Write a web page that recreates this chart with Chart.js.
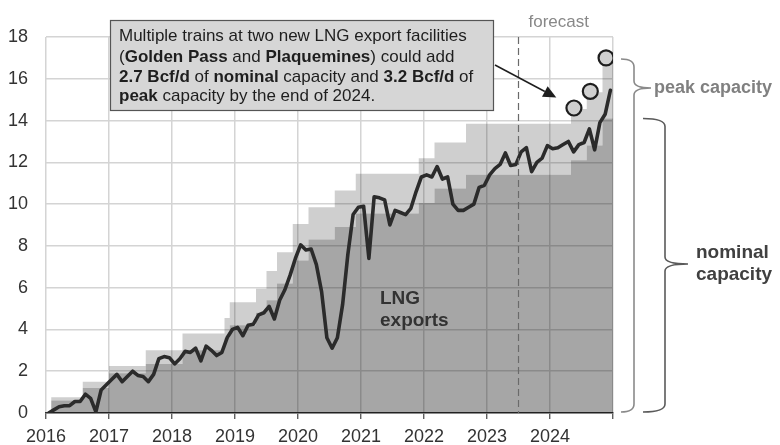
<!DOCTYPE html>
<html>
<head>
<meta charset="utf-8">
<script src="https://cdn.jsdelivr.net/npm/chart.js@4"></script>
<style>
  html, body { margin: 0; padding: 0; background: #ffffff; }
  #wrap { position: relative; width: 780px; height: 445px; }
</style>
</head>
<body>
<div id="wrap"><canvas id="c"></canvas></div>
<script>
// ---------------- DATA ----------------
const yearTicks = [2016, 2017, 2018, 2019, 2020, 2021, 2022, 2023, 2024, 2025];
const yTicks = [0, 2, 4, 6, 8, 10, 12, 14, 16, 18];

// Monthly U.S. LNG exports (Bcf/d), Jan 2016 - Dec 2024
const exportStart = '2016-01';
const lngExports = [
  0.0, 0.15, 0.3, 0.35, 0.35, 0.55, 0.55, 0.9, 0.7, 0.05, 1.1, 1.35,      // 2016
  1.6, 1.85, 1.5, 1.75, 2.0, 1.8, 1.75, 1.5, 1.85, 2.6, 2.7, 2.65,        // 2017
  2.35, 2.6, 2.95, 2.9, 3.1, 2.5, 3.2, 3.0, 2.75, 2.9, 3.6, 4.0,          // 2018
  4.1, 3.7, 4.2, 4.25, 4.7, 4.8, 5.1, 4.5, 5.4, 5.9, 6.6, 7.4,            // 2019
  8.05, 7.8, 7.85, 7.1, 5.8, 3.6, 3.1, 3.6, 5.2, 7.6, 9.5, 9.85,          // 2020
  9.9, 7.4, 10.35, 10.3, 10.2, 9.0, 9.7, 9.6, 9.5, 9.8, 10.6, 11.3,       // 2021
  11.4, 11.3, 11.8, 11.2, 11.3, 10.0, 9.7, 9.7, 9.85, 10.0, 10.8, 10.9,   // 2022
  11.4, 11.7, 11.9, 12.45, 11.85, 11.9, 12.5, 12.7, 11.55, 12.0, 12.2, 12.8, // 2023
  12.65, 12.7, 12.85, 13.0, 12.5, 12.85, 12.95, 13.6, 12.6, 13.9, 14.3, 15.45 // 2024
];

// Export capacity step changes (month the level starts) and levels (Bcf/d)
const capDates   = ['2016-01','2016-02','2016-08','2017-01','2017-08','2018-03','2018-11','2018-12','2019-05','2019-07','2019-09','2019-12','2020-03','2020-08','2020-12','2021-12','2022-03','2022-09','2024-05','2024-08','2024-11','2025-01'];
const nominalCap = [0, 0.6, 1.2, 1.9, 2.35, 3.0, 3.6, 4.2, 4.8, 5.4, 6.2, 7.3, 8.3, 8.9, 9.55, 10.05, 10.75, 11.4, 12.1, 12.8, 14.1, 14.1];
const peakCap    = [0, 0.75, 1.5, 2.25, 3.0, 3.8, 4.55, 5.3, 5.95, 6.8, 7.7, 9.05, 9.85, 10.65, 11.45, 12.2, 12.95, 13.85, 14.55, 15.35, 16.95, 16.95];

// Circled new peak-capacity additions (Golden Pass / Plaquemines)
const circleX = [2024.38, 2024.64, 2024.89];
const circleY = [14.6, 15.4, 17.0];

const forecastStart = '2023-07';
const arrowTip = { x: 2024.1, y: 15.1 };

// ---------------- HELPERS ----------------
function ym(s) { const [y, m] = s.split('-').map(Number); return y + (m - 1) / 12; }
const startYM = ym(exportStart);
const exportPts = lngExports.map((v, i) => ({ x: startYM + (i + 0.5) / 12, y: v }));
const nomPts = capDates.map((d, i) => ({ x: ym(d), y: nominalCap[i] }));
const peakPts = capDates.map((d, i) => ({ x: ym(d), y: peakCap[i] }));
const circlePts = circleX.map((x, i) => ({ x: x, y: circleY[i] }));

const FAM = '"Liberation Sans", Arial, Helvetica, sans-serif';

function richLine(ctx, x, y, parts, size) {
  let cx = x;
  for (const [t, b] of parts) {
    ctx.font = (b ? 'bold ' : '') + size + 'px ' + FAM;
    ctx.fillText(t, cx, y);
    cx += ctx.measureText(t).width;
  }
}

const annot = {
  id: 'annot',
  afterDatasetsDraw(chart) {
    const { ctx, chartArea: a, scales: { x, y } } = chart;
    const fx = x.getPixelForValue(ym(forecastStart));
    ctx.save();
    ctx.strokeStyle = '#6a6a6a';
    ctx.lineWidth = 1.2;
    ctx.setLineDash([7, 4]);
    ctx.beginPath(); ctx.moveTo(fx, a.top); ctx.lineTo(fx, a.bottom); ctx.stroke();
    ctx.restore();
  },
  afterDraw(chart) {
    const { ctx, chartArea: a, scales: { x, y } } = chart;
    ctx.save();
    // forecast label
    const fx = x.getPixelForValue(ym(forecastStart));
    ctx.fillStyle = '#888888';
    ctx.font = '17px ' + FAM;
    ctx.textAlign = 'left';
    ctx.textBaseline = 'alphabetic';
    ctx.fillText('forecast', fx + 10, 27);

    // annotation box
    const bx = 110, by = 20, bw = 383, bh = 90;
    ctx.fillStyle = '#d6d6d6';
    ctx.fillRect(bx, by, bw, bh);
    ctx.strokeStyle = '#555555';
    ctx.lineWidth = 1.2;
    ctx.strokeRect(bx + 0.5, by + 0.5, bw, bh);
    ctx.fillStyle = '#1e1e1e';
    const fs = 17;
    richLine(ctx, 119, 41, [['Multiple trains at two new LNG export facilities', false]], fs);
    richLine(ctx, 119, 61.5, [['(', false], ['Golden Pass', true], [' and ', false], ['Plaquemines', true], [') could add', false]], fs);
    richLine(ctx, 119, 81.5, [['2.7 Bcf/d', true], [' of ', false], ['nominal', true], [' capacity and ', false], ['3.2 Bcf/d', true], [' of', false]], fs);
    richLine(ctx, 119, 101, [['peak', true], [' capacity by the end of 2024.', false]], fs);

    // arrow
    const ax0 = 495, ay0 = 65;
    const ax1 = x.getPixelForValue(arrowTip.x), ay1 = y.getPixelForValue(arrowTip.y);
    const ang = Math.atan2(ay1 - ay0, ax1 - ax0);
    const hl = 13, hw = 6;
    ctx.strokeStyle = '#1e1e1e';
    ctx.lineWidth = 1.5;
    ctx.beginPath(); ctx.moveTo(ax0, ay0);
    ctx.lineTo(ax1 - Math.cos(ang) * hl, ay1 - Math.sin(ang) * hl); ctx.stroke();
    ctx.fillStyle = '#1e1e1e';
    ctx.beginPath();
    ctx.moveTo(ax1, ay1);
    ctx.lineTo(ax1 - Math.cos(ang) * hl - Math.sin(ang) * hw, ay1 - Math.sin(ang) * hl + Math.cos(ang) * hw);
    ctx.lineTo(ax1 - Math.cos(ang) * hl + Math.sin(ang) * hw, ay1 - Math.sin(ang) * hl - Math.cos(ang) * hw);
    ctx.closePath(); ctx.fill();

    // LNG exports label
    ctx.fillStyle = '#333333';
    ctx.font = 'bold 19px ' + FAM;
    ctx.fillText('LNG', 380, 304);
    ctx.fillText('exports', 380, 326);

    // braces
    function brace(xl, xv, top, bot, tipY, tipX, color) {
      ctx.strokeStyle = color;
      ctx.lineWidth = 1.6;
      ctx.beginPath();
      ctx.moveTo(xl, top);
      ctx.quadraticCurveTo(xv, top, xv, top + 8);
      ctx.lineTo(xv, tipY - 7);
      ctx.quadraticCurveTo(xv, tipY, tipX, tipY);
      ctx.moveTo(tipX, tipY);
      ctx.quadraticCurveTo(xv, tipY, xv, tipY + 7);
      ctx.lineTo(xv, bot - 8);
      ctx.quadraticCurveTo(xv, bot, xl, bot);
      ctx.stroke();
    }
    const base = y.getPixelForValue(0);
    brace(621, 634, y.getPixelForValue(16.95), base - 1, 88, 651, '#8a8a8a');
    brace(643, 665, y.getPixelForValue(14.1), base - 1, 264, 688, '#5a5a5a');

    ctx.textBaseline = 'middle';
    ctx.fillStyle = '#808080';
    ctx.font = 'bold 18px ' + FAM;
    ctx.fillText('peak capacity', 654, 88);
    ctx.fillStyle = '#404040';
    ctx.font = 'bold 19px ' + FAM;
    ctx.fillText('nominal', 696, 253);
    ctx.fillText('capacity', 696, 275);
    ctx.restore();
  }
};

new Chart(document.getElementById('c'), {
  type: 'line',
  data: {
    datasets: [
      { label: 'LNG exports', data: exportPts, borderColor: '#2b2b2b', borderWidth: 3.6,
        pointRadius: 0, fill: false, order: 0, borderJoinStyle: 'round', borderCapStyle: 'round' },
      { label: 'new peak capacity', data: circlePts, showLine: false, pointRadius: 7.5,
        pointBorderWidth: 2.2, pointBorderColor: '#1e1e1e', pointBackgroundColor: '#d0d0d0', order: 1 },
      { label: 'nominal capacity', data: nomPts, stepped: 'before', borderWidth: 0, pointRadius: 0,
        fill: 'origin', backgroundColor: 'rgba(0,0,0,0.35)', order: 3 },
      { label: 'peak capacity', data: peakPts, stepped: 'before', borderWidth: 0, pointRadius: 0,
        fill: '-1', backgroundColor: 'rgba(0,0,0,0.19)', order: 2 }
    ]
  },
  options: {
    responsive: true,
    maintainAspectRatio: false,
    animation: false,
    events: [],
    layout: { padding: { top: 37, right: 167, bottom: 0, left: 0 } },
    plugins: { legend: { display: false }, tooltip: { enabled: false } },
    scales: {
      x: {
        type: 'linear', min: yearTicks[0], max: yearTicks[yearTicks.length - 1],
        afterBuildTicks: s => { s.ticks = yearTicks.map(v => ({ value: v })); },
        ticks: { autoSkip: false, maxRotation: 0, padding: 7, color: '#333333',
          font: { size: 18, family: FAM },
          callback: v => (v < 2025 ? String(v) : '') },
        grid: { color: '#d4d4d4', lineWidth: 1.5, drawTicks: true, tickLength: 6, tickColor: '#444444', tickWidth: 1.2 },
        border: { color: '#333333', width: 1.5 },
        afterFit: s => { s.height = 32; }
      },
      y: {
        min: 0, max: 18,
        afterBuildTicks: s => { s.ticks = yTicks.map(v => ({ value: v })); },
        ticks: { padding: 18, color: '#333333', font: { size: 18, family: FAM } },
        grid: { color: '#d4d4d4', lineWidth: 1.5, drawTicks: false },
        border: { display: false },
        afterFit: s => { s.width = 46; }
      }
    }
  },
  plugins: [annot]
});
</script>
</body>
</html>
